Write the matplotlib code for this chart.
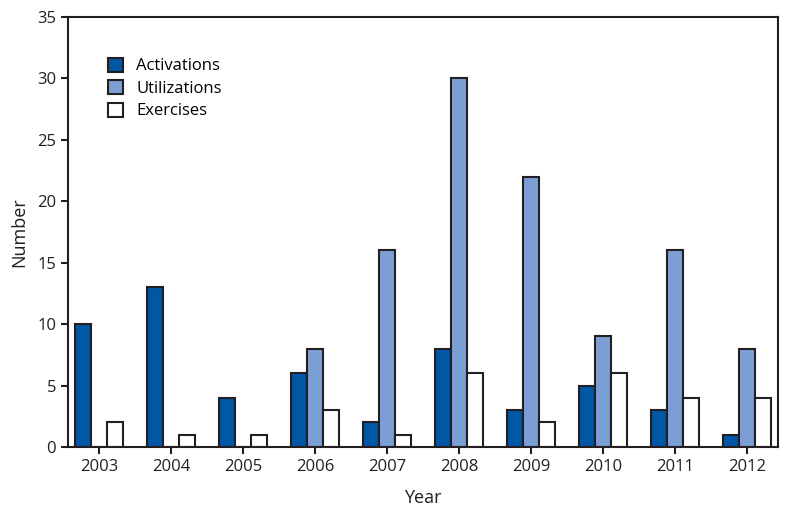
import numpy as np
import matplotlib.pyplot as plt

plt.rcParams['font.family'] = ['Open Sans', 'DejaVu Sans']

# 資料
years = ['2003', '2004', '2005', '2006', '2007', '2008', '2009', '2010', '2011', '2012']
activations = [10, 13, 4, 6, 2, 8, 3, 5, 3, 1]
utilizations = [0, 0, 0, 8, 16, 30, 22, 9, 16, 8]
exercises = [2, 1, 1, 3, 1, 6, 2, 6, 4, 4]

fig = plt.figure(figsize=(7.89, 5.12), dpi=100)
ax = fig.add_axes([0.0862, 0.127, 0.9, 0.84])

x = np.arange(len(years))
w = 0.22
edge = '#231f20'
ax.bar(x - w, activations, w, color='#0057a6', edgecolor=edge, linewidth=1.5, label='Activations')
ax.bar(x, utilizations, w, color='#7b9fd5', edgecolor=edge, linewidth=1.5, label='Utilizations')
ax.bar(x + w, exercises, w, color='white', edgecolor=edge, linewidth=1.5, label='Exercises')

ax.set_xlim(-0.43, len(years) - 1 + 0.43)
ax.set_ylim(0, 35)
ax.set_yticks(range(0, 36, 5))
ax.set_xticks(x)
ax.set_xticklabels(years)
ax.tick_params(axis='both', direction='out', length=5, width=1.5, labelsize=12, colors=edge)
for s in ax.spines.values():
    s.set_linewidth(1.5)
    s.set_color(edge)

ax.set_xlabel('Year', fontsize=13, color=edge, labelpad=10)
ax.set_ylabel('Number', fontsize=13, color=edge, labelpad=6)

ax.legend(loc='upper left', bbox_to_anchor=(0.035, 0.94), frameon=False, fontsize=12,
          handlelength=0.9, handleheight=0.9, handletextpad=0.8, labelspacing=0.35)

fig.savefig('out.png', dpi=100)
